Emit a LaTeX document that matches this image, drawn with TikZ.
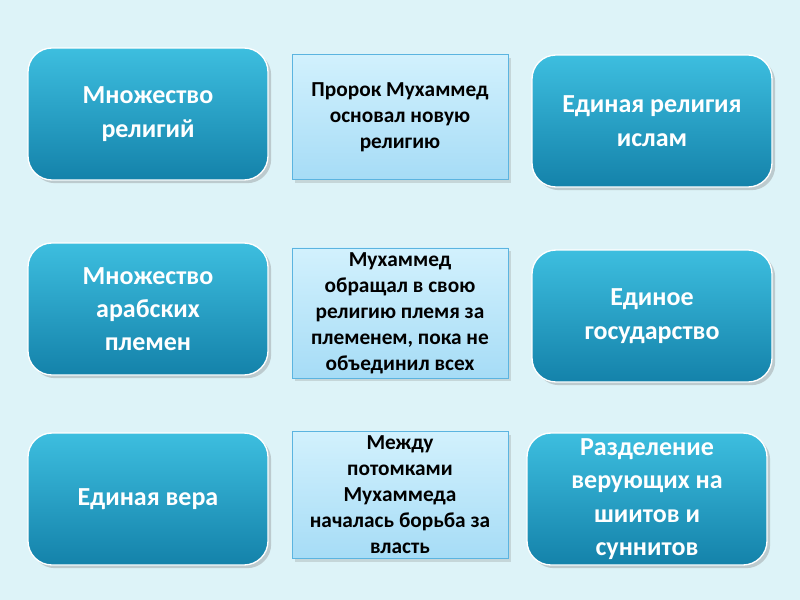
\documentclass[tikz,border=0pt]{standalone}
\usepackage{fontspec}
\setmainfont{Carlito}
\usetikzlibrary{positioning,shadows}
\definecolor{bg_cyan}{HTML}{DDF3F8}
\definecolor{box_top}{HTML}{3DBEDF}
\definecolor{box_bot}{HTML}{1482AA}
\definecolor{mid_top}{HTML}{D2F1FD}
\definecolor{mid_bot}{HTML}{A6DCF6}
\definecolor{mid_edge}{HTML}{5BB4E0}
\tikzset{
  bigbox/.style={rounded corners=18pt, top color=box_top, bottom color=box_bot,
    draw=white, line width=1pt, drop shadow={opacity=0.35},
    minimum width=180pt, minimum height=99pt, align=center,
    text=white, font=\fontsize{19.5}{25}\selectfont\bfseries},
  midbox/.style={top color=mid_top, bottom color=mid_bot, draw=mid_edge,
    line width=0.6pt, drop shadow={opacity=0.25},
    minimum width=162pt, minimum height=94pt, align=center,
    font=\fontsize{16}{19.5}\selectfont\bfseries}
}
\begin{document}
\begin{tikzpicture}[x=0.75pt, y=-0.75pt]
  \fill[bg_cyan] (0,0) rectangle (800,600);
  \useasboundingbox (0,0) rectangle (800,600);

  % left column
  \node[bigbox] (many_rel) at (148,114) {Множество\\религий};
  \node[bigbox] (many_trib) at (148,309) {Множество\\арабских\\племен};
  \node[bigbox] (one_faith) at (148,499) {Единая вера};

  % middle column
  \node[midbox] (prophet) at (400,117) {Пророк Мухаммед\\основал новую\\религию};
  \node[midbox] (convert) at (400,313) {Мухаммед\\обращал в свою\\религию племя за\\племенем, пока не\\объединил всех};
  \node[midbox] (struggle) at (400,495) {Между\\потомками\\Мухаммеда\\началась борьба за\\власть};

  % right column
  \node[bigbox] (islam) at (652,121) {Единая религия\\ислам};
  \node[bigbox] (state) at (652,316) {Единое\\государство};
  \node[bigbox] (split) at (647,499) {Разделение\\верующих на\\шиитов и\\суннитов};
\end{tikzpicture}
\end{document}
